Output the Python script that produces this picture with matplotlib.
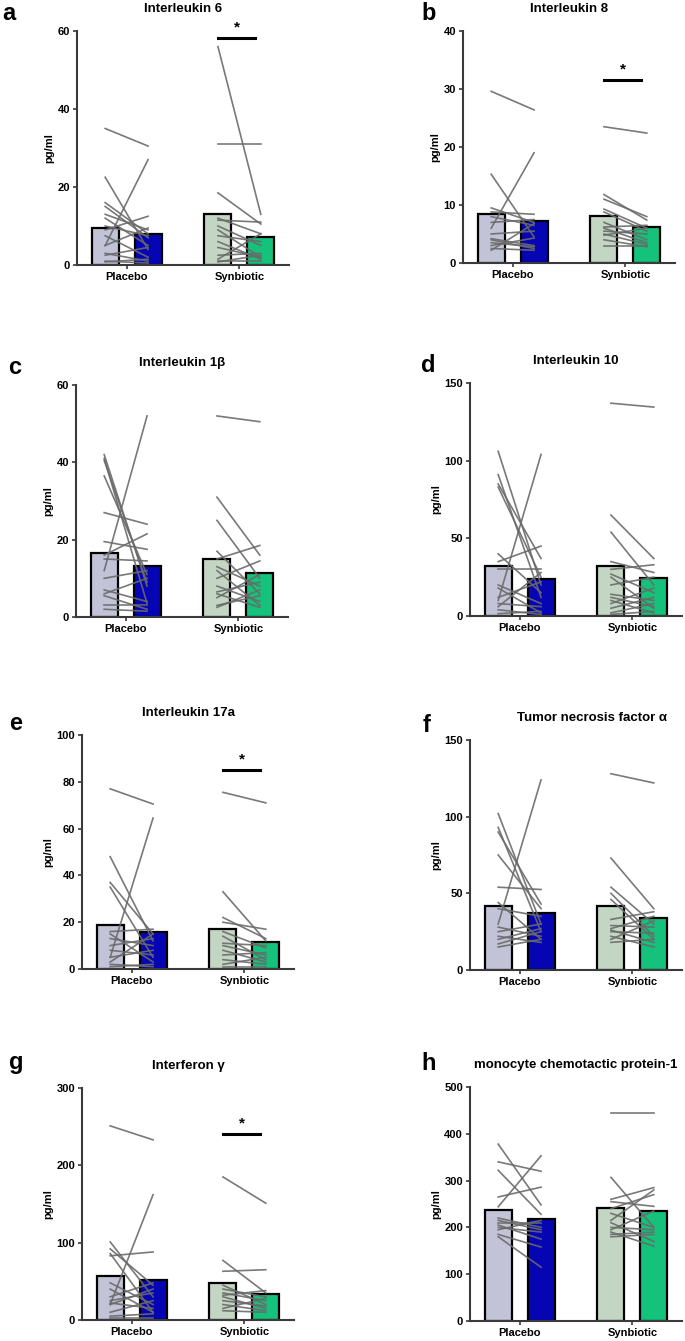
import matplotlib.pyplot as plt

plt.rcParams['font.family'] = ['Liberation Sans', 'DejaVu Sans']
plt.rcParams['font.weight'] = 'bold'

groups = ["Placebo", "Synbiotic"]

# bar heights (means): placebo pre, placebo post, synbiotic pre, synbiotic post
il6_bars = [9.5, 8.0, 13.0, 7.2]
il6_pla_pre = [35, 22.5, 16, 15, 13, 12, 10, 9, 5, 5, 3, 2.5, 1, 0.8, 7.5]
il6_pla_post = [30.5, 4, 8, 7, 9, 5, 7.5, 12.5, 27, 9.5, 1, 4.5, 0.5, 1.5, 2]
il6_syn_pre = [56, 31, 18.5, 12, 11.5, 10, 9, 7.5, 6, 4.5, 2.5, 1.5, 1, 0.8]
il6_syn_post = [13, 31, 10.5, 8, 11, 5, 2, 6, 1.5, 2, 3, 8, 1, 2.5]

il8_bars = [8.4, 7.3, 8.1, 6.2]
il8_pla_pre = [29.6, 15.3, 9.5, 8.8, 8, 7, 6, 5, 4.2, 4, 3.5, 3, 2.5, 2.2]
il8_pla_post = [26.4, 4.5, 7, 8.4, 6.5, 7.5, 19, 5.5, 3, 2.5, 2.8, 4.3, 2.2, 6.8]
il8_syn_pre = [23.5, 11.8, 11, 9.3, 8.8, 7, 6.2, 5.5, 5, 4.8, 3, 4, 6]
il8_syn_post = [22.4, 7.4, 8, 6, 5.5, 4, 6.5, 5, 3.2, 6, 3, 2.8, 3.5]

il1b_bars = [16.5, 13.2, 15.1, 11.4]
il1b_pla_pre = [42, 41, 40.5, 36.5, 27, 19.5, 16, 15, 10, 12, 7, 6, 5.5, 3, 2]
il1b_pla_post = [8, 3.5, 9, 11, 24, 17.5, 21.5, 14.5, 12, 52, 4, 10, 2, 3, 1.5]
il1b_syn_pre = [52, 31, 25, 17, 15, 13, 12, 10, 8, 6.5, 6, 5, 3, 2.5]
il1b_syn_post = [50.5, 16, 10, 6, 18.5, 8, 3, 14.5, 4, 9, 2.5, 11, 5.5, 7]

il10_bars = [32.5, 23.5, 32, 24.5]
il10_pla_pre = [106, 91, 85, 83, 40, 35, 30, 10, 20, 18, 12, 8, 6, 4, 1.5]
il10_pla_post = [20, 12, 37, 25, 15, 45, 30, 104, 8, 2, 22, 6, 28, 1, 3]
il10_syn_pre = [137, 65, 54, 35, 30, 27, 25, 20, 14, 12, 10, 8, 5, 2, 1]
il10_syn_post = [134.5, 37, 20, 28, 33, 15, 5, 25, 10, 6, 2, 18, 12, 8, 3]

il17_bars = [18.8, 16.0, 17.3, 11.7]
il17_pla_pre = [77, 48, 37, 35, 16, 15, 13, 10, 8, 5, 5, 3, 2, 1]
il17_pla_post = [70.5, 12, 15, 5, 17, 3, 10, 13, 6, 64.5, 8, 15, 1, 2]
il17_syn_pre = [75.5, 33, 22, 20, 16, 14, 11, 10, 8, 6, 4, 2, 1]
il17_syn_post = [71, 12, 13, 17, 9, 4, 10, 6, 3, 7, 2, 5, 1]

tnf_bars = [42, 37.5, 41.5, 34]
tnf_pla_pre = [102, 93, 90, 75, 54, 44, 40, 30, 28, 25, 22, 20, 17, 15]
tnf_pla_post = [30, 25, 43, 40, 52.5, 20, 35, 124, 22, 30, 18, 27, 25, 20]
tnf_syn_pre = [128, 73, 54, 50, 46, 33, 29, 27, 26, 25, 22, 20, 18]
tnf_syn_post = [122, 40, 30, 22, 20, 38, 28, 35, 18, 24, 15, 32, 20]

ifn_bars = [57, 52, 48, 33]
ifn_pla_pre = [251, 101, 92, 86, 83, 48, 20, 40, 30, 25, 22, 20, 10, 5, 3]
ifn_pla_post = [233, 30, 45, 10, 88, 20, 162, 10, 48, 35, 15, 40, 25, 8, 3]
ifn_syn_pre = [185, 77, 63, 45, 40, 35, 32, 30, 25, 20, 15, 12]
ifn_syn_post = [151, 35, 65, 20, 30, 25, 38, 15, 18, 12, 28, 10]

mcp_bars = [237, 217, 242, 234]
mcp_pla_pre = [378, 340, 322, 265, 244, 215, 210, 205, 200, 195, 185, 180, 220]
mcp_pla_post = [248, 320, 228, 286, 353, 195, 210, 175, 190, 215, 158, 115, 200]
mcp_syn_pre = [445, 307, 260, 255, 240, 215, 200, 195, 190, 185, 180, 230, 210]
mcp_syn_post = [445, 200, 285, 245, 270, 280, 195, 235, 160, 190, 185, 200, 170]

colors = ["#c3c3d8", "#0505b4", "#c3d6c4", "#14c27c"]

# letter, title, ylim max, tick step, bars, lines, significance bar y
panels = [
    ("a", "Interleukin 6", 60, 20, il6_bars, il6_pla_pre, il6_pla_post, il6_syn_pre, il6_syn_post, 58.3),
    ("b", "Interleukin 8", 40, 10, il8_bars, il8_pla_pre, il8_pla_post, il8_syn_pre, il8_syn_post, 31.5),
    ("c", "Interleukin 1\u03b2", 60, 20, il1b_bars, il1b_pla_pre, il1b_pla_post, il1b_syn_pre, il1b_syn_post, None),
    ("d", "Interleukin 10", 150, 50, il10_bars, il10_pla_pre, il10_pla_post, il10_syn_pre, il10_syn_post, None),
    ("e", "Interleukin 17a", 100, 20, il17_bars, il17_pla_pre, il17_pla_post, il17_syn_pre, il17_syn_post, 85),
    ("f", "Tumor necrosis factor \u03b1", 150, 50, tnf_bars, tnf_pla_pre, tnf_pla_post, tnf_syn_pre, tnf_syn_post, None),
    ("g", "Interferon \u03b3", 300, 100, ifn_bars, ifn_pla_pre, ifn_pla_post, ifn_syn_pre, ifn_syn_post, 240),
    ("h", "monocyte chemotactic protein-1", 500, 100, mcp_bars, mcp_pla_pre, mcp_pla_post, mcp_syn_pre, mcp_syn_post, None),
]

# axes boxes in pixels: left, top, bottom ; panel letter position ; title x
boxes = [(77, 31, 265), (463, 31, 263), (76, 385, 617), (470, 383, 616),
         (82, 735, 969), (470, 740, 970), (82, 1088, 1320), (470, 1087, 1321)]
letter_pos = [(2, 14), (421, 14), (8, 367), (421, 365), (9, 723), (423, 725), (9, 1063), (421, 1063)]
title_x = [0.5, 0.5, 0.5, 0.5, 0.5, 0.575, 0.5, 0.5]

W, H = 685, 1341
fig = plt.figure(figsize=(W / 100, H / 100), dpi=100)

bw = 0.24
off = 0.19
for i, ((letter, title, ymax, step, bars, ppre, ppost, spre, spost, sig), (l, t, b)) in enumerate(zip(panels, boxes)):
    ax = fig.add_axes([l / W, 1 - b / H, 212 / W, (b - t) / H])
    xs = [0 - off, 0 + off, 1 - off, 1 + off]
    ax.bar(xs, bars, width=bw, color=colors, edgecolor="black", linewidth=1.6, zorder=2)
    for pre, post in zip(ppre, ppost):
        ax.plot([0 - off, 0 + off], [pre, post], color="#6a6a6a", lw=1.2, alpha=0.9, zorder=3)
    for pre, post in zip(spre, spost):
        ax.plot([1 - off, 1 + off], [pre, post], color="#6a6a6a", lw=1.2, alpha=0.9, zorder=3)
    if sig is not None:
        ax.plot([1 - off, 1 + off - 0.05], [sig, sig], color="black", lw=2.2, zorder=4, clip_on=False)
        ax.text(1 - 0.025, sig + ymax * 0.015, "*", ha="center", va="bottom", fontsize=11, fontweight="bold")
    ax.set_xlim(-0.44, 1.44)
    ax.set_ylim(0, ymax)
    ax.set_yticks(range(0, ymax + 1, step))
    ax.set_xticks([0, 1])
    ax.set_xticklabels(groups)
    for s in ["top", "right"]:
        ax.spines[s].set_visible(False)
    for s in ["left", "bottom"]:
        ax.spines[s].set_color("#3a3a3a")
        ax.spines[s].set_linewidth(1.5)
    ax.tick_params(axis="both", labelsize=8, width=1.2, length=3, color="#3a3a3a", pad=2)
    ax.set_ylabel("pg/ml", fontsize=8, fontweight="bold", labelpad=2)
    ax.set_title(title, fontsize=9.5, fontweight="bold", pad=14, x=title_x[i])
    lx, ly = letter_pos[i]
    fig.text(lx / W, 1 - ly / H, letter, fontsize=17, fontweight="bold", ha="left", va="center")

fig.savefig("out.png", dpi=100)
